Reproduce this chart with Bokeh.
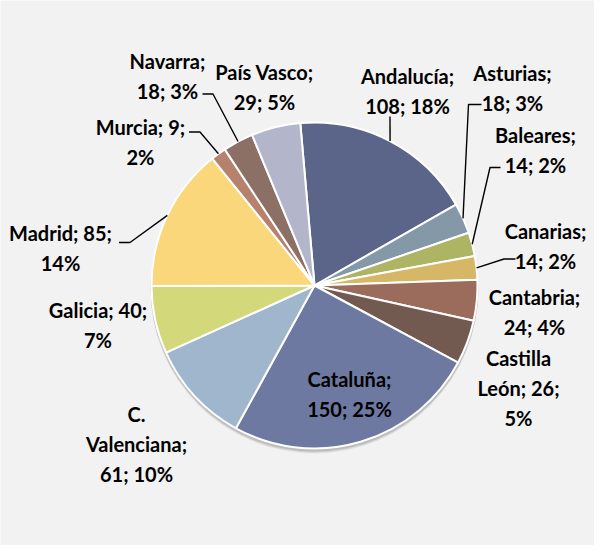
import math
from bokeh.plotting import figure
from bokeh.models import Range1d, ColumnDataSource
from bokeh.embed import file_html
from bokeh.resources import INLINE
from bokeh.core.properties import value

# ---- data ----
regions = ["Andalucía", "Asturias", "Baleares", "Canarias", "Cantabria",
           "Castilla León", "Cataluña", "C. Valenciana", "Galicia", "Madrid",
           "Murcia", "Navarra", "País Vasco"]
values = [108, 18, 14, 14, 24, 26, 150, 61, 40, 85, 9, 18, 29]
pct_labels = ["18%", "3%", "2%", "2%", "4%", "5%", "25%", "10%", "7%", "14%",
              "2%", "3%", "5%"]
colors = ["#5b6489", "#8598a8", "#adb464", "#d5b766", "#9b6b5c", "#735a51",
          "#6e79a2", "#9fb6cc", "#d3d87b", "#fad77b", "#b6826d", "#8c7065",
          "#b3b6ca"]

# ---- layout ----
W, H = 594, 545
def X(px):
    return px - 8
def Y(py):
    return 553 - py

cx, cy, R = X(322), Y(293), 163
first_angle = 95.0  # degrees, Excel first slice rotated 5 deg left of 12 o'clock

# how each label is broken into lines (layout only)
line_breaks = {
    "Castilla León": lambda n, v, pc: "Castilla\nLeón; %d;\n%s" % (v, pc),
    "C. Valenciana": lambda n, v, pc: "C.\nValenciana;\n%d; %s" % (v, pc),
    "Galicia": lambda n, v, pc: "%s; %d;\n%s" % (n, v, pc),
    "Madrid": lambda n, v, pc: "%s; %d;\n%s" % (n, v, pc),
    "Murcia": lambda n, v, pc: "%s; %d;\n%s" % (n, v, pc),
}
default_break = lambda n, v, pc: "%s;\n%d; %s" % (n, v, pc)

label_pos = {  # image pixel centres of the label blocks
    "Andalucía": (415, 98.5), "Asturias": (520, 95), "Baleares": (543, 157.5),
    "Canarias": (553, 253), "Cantabria": (542, 319), "Castilla León": (526, 395),
    "Cataluña": (357, 401), "C. Valenciana": (144, 451), "Galicia": (105.5, 332.5),
    "Madrid": (68, 255.5), "Murcia": (148, 149), "Navarra": (175, 83),
    "País Vasco": (272, 94),
}
leader_elbows = {  # image pixel points of the leader line near the label
    "Andalucía": [(397.5, 124)],
    "Asturias": [(489, 112), (476, 112)],
    "Baleares": [(508, 175), (497.5, 175)],
    "Canarias": [(523, 266.5), (511.5, 266.5)],
    "Madrid": [(126.5, 250), (137.5, 250)],
    "Murcia": [(196.5, 139.5), (207.5, 139.5)],
    "Navarra": [(210, 101.5), (220.5, 101.5)],
}

total = float(sum(values))
starts, ends, mids = [], [], []
cum = 0.0
for v in values:
    a0 = first_angle - cum / total * 360.0
    a1 = first_angle - (cum + v) / total * 360.0
    starts.append(math.radians(a0))
    ends.append(math.radians(a1))
    mids.append(math.radians((a0 + a1) / 2.0))
    cum += v

p = figure(width=W, height=H, x_range=Range1d(0, W), y_range=Range1d(0, H),
           output_backend="svg", toolbar_location=None,
           x_axis_location=None, y_axis_location=None, min_border=0,
           background_fill_color="#f2f2f2", border_fill_color="#f2f2f2",
           outline_line_color=None)
p.xgrid.grid_line_color = None
p.ygrid.grid_line_color = None

# soft shadow under the pie
for off, alpha in [(4, 0.06), (3, 0.08), (2, 0.10)]:
    p.circle(x=[cx], y=[cy - off], radius=R + 1, fill_color="#000000",
             fill_alpha=alpha, line_color=None)

src = ColumnDataSource(dict(start=starts, end=ends, color=colors, region=regions))
p.wedge(x=cx, y=cy, radius=R, start_angle="start", end_angle="end",
        direction="clock", fill_color="color", line_color="white",
        line_width=2, source=src)

# leader lines
xs, ys = [], []
for i, name in enumerate(regions):
    if name in leader_elbows:
        pts = [(X(a), Y(b)) for a, b in leader_elbows[name]]
        ex = cx + R * math.cos(mids[i])
        ey = cy + R * math.sin(mids[i])
        pts.append((ex, ey))
        xs.append([q[0] for q in pts])
        ys.append([q[1] for q in pts])
p.multi_line(xs=xs, ys=ys, line_color="#000000", line_width=1.4)

# labels
lx, ly, lt = [], [], []
for i, name in enumerate(regions):
    f = line_breaks.get(name, default_break)
    lt.append(f(name, values[i], pct_labels[i]))
    px, py = label_pos[name]
    lx.append(X(px))
    ly.append(Y(py))
p.text(x=lx, y=ly, text=lt, text_font=value("Lato"), text_font_style="bold",
       text_font_size="20px", text_align="center", text_baseline="middle",
       text_line_height=1.25, text_color="#000000")

open("out.html", "w").write(file_html(p, INLINE))
